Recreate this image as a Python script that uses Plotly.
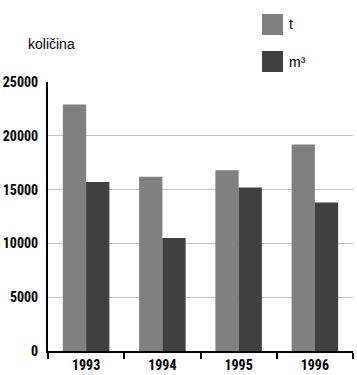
import plotly.graph_objects as go

years = ["1993", "1994", "1995", "1996"]
t_values = [22900, 16200, 16800, 19200]
m3_values = [15700, 10500, 15200, 13800]
series_names = ["t", "m³"]
series_colors = ["#808080", "#404040"]
y_ticks = [0, 5000, 10000, 15000, 20000, 25000]

W, H = 357, 375
ML, MR, MT, MB = 48, 4, 82, 24
pw = W - ML - MR
ph = H - MT - MB

def px_x(x):
    return (x - ML) / pw

def px_y(y):
    return (H - MB - y) / ph

fig = go.Figure()
for name, vals, col in zip(series_names, [t_values, m3_values], series_colors):
    fig.add_trace(go.Bar(x=years, y=vals, name=name, marker=dict(color=col, line=dict(width=0))))

tick_font = dict(family="Roboto Condensed, DejaVu Sans Condensed, sans-serif",
                 size=14, color="#000000", weight="bold")
text_font = dict(family="Liberation Sans, Arial, sans-serif", size=14, color="#000")

fig.update_layout(
    width=W, height=H,
    margin=dict(l=ML, r=MR, t=MT, b=MB),
    paper_bgcolor="white", plot_bgcolor="white",
    barmode="group", bargap=0.39, bargroupgap=0,
    showlegend=False,
    xaxis=dict(type="category", tickson="boundaries", ticks="outside", ticklen=6,
               tickwidth=2, tickcolor="#000", showline=True, linecolor="#000", linewidth=2,
               showgrid=False, tickfont=tick_font, fixedrange=True, automargin=False),
    yaxis=dict(range=[0, 25000], tickvals=y_ticks, ticktext=[str(v) for v in y_ticks],
               showline=True, linecolor="#000", linewidth=2, showgrid=True,
               gridcolor="#c0c0c0", gridwidth=1, zeroline=False, ticks="",
               ticklabelstandoff=5, tickfont=tick_font, automargin=False),
)

# title label
fig.add_annotation(text="količina", xref="paper", yref="paper", x=px_x(26), y=px_y(44),
                   xanchor="left", yanchor="middle", showarrow=False, font=text_font)

# legend drawn manually
legend_rows = [(14, 35), (51, 72)]
for (y0, y1), name, col in zip(legend_rows, series_names, series_colors):
    fig.add_shape(type="rect", xref="paper", yref="paper",
                  x0=px_x(262), x1=px_x(283), y0=px_y(y1), y1=px_y(y0),
                  fillcolor=col, line=dict(width=0))
    fig.add_annotation(text=name, xref="paper", yref="paper", x=px_x(287), y=px_y((y0 + y1) / 2),
                       xanchor="left", yanchor="middle", showarrow=False, font=text_font)

fig.write_html("out.html")
